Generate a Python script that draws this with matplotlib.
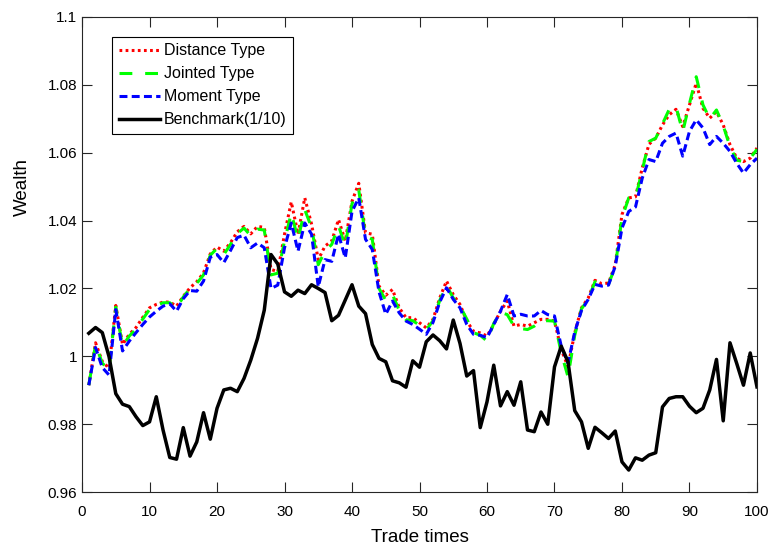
import matplotlib
matplotlib.use("Agg")
import matplotlib.pyplot as plt
from matplotlib.ticker import FuncFormatter

plt.rcParams['font.family'] = ['Liberation Sans', 'DejaVu Sans']

trade_times = list(range(1, 101))

distance_type = [
    0.9915, 1.0040, 0.9985, 0.9965, 1.0150, 1.0035, 1.0065, 1.0085, 1.0115, 1.0143,
    1.0153, 1.0160, 1.0160, 1.0148, 1.0177, 1.0202, 1.0220, 1.0246, 1.0302, 1.0322,
    1.0310, 1.0335, 1.0367, 1.0383, 1.0361, 1.0383, 1.0380, 1.0256, 1.0250, 1.0360,
    1.0455, 1.0360, 1.0467, 1.0390, 1.0285, 1.0325, 1.0340, 1.0403, 1.0340, 1.0457,
    1.0510, 1.0364, 1.0360, 1.0207, 1.0180, 1.0197, 1.0143, 1.0114, 1.0114, 1.0099,
    1.0084, 1.0109, 1.0172, 1.0222, 1.0182, 1.0153, 1.0104, 1.0074, 1.0069, 1.0060,
    1.0094, 1.0133, 1.0163, 1.0089, 1.0094, 1.0089, 1.0099, 1.0109, 1.0109, 1.0104,
    1.0020, 0.9970, 1.0069, 1.0143, 1.0172, 1.0224, 1.0214, 1.0216, 1.0270, 1.0418,
    1.0467, 1.0470, 1.0555, 1.0625, 1.0643, 1.0682, 1.0712, 1.0728, 1.0677, 1.0741,
    1.0805, 1.0731, 1.0702, 1.0721, 1.0682, 1.0624, 1.0584, 1.0574, 1.0584, 1.0614,
]

jointed_type = [
    0.9915, 1.0035, 0.9980, 0.9960, 1.0145, 1.0030, 1.0060, 1.0080, 1.0110, 1.0138,
    1.0150, 1.0158, 1.0158, 1.0143, 1.0175, 1.0200, 1.0215, 1.0240, 1.0298, 1.0318,
    1.0300, 1.0330, 1.0362, 1.0378, 1.0355, 1.0375, 1.0372, 1.0240, 1.0245, 1.0340,
    1.0422, 1.0345, 1.0432, 1.0380, 1.0270, 1.0310, 1.0330, 1.0385, 1.0325, 1.0450,
    1.0490, 1.0355, 1.0345, 1.0200, 1.0165, 1.0182, 1.0135, 1.0108, 1.0105, 1.0092,
    1.0078, 1.0105, 1.0165, 1.0208, 1.0172, 1.0148, 1.0110, 1.0070, 1.0062, 1.0045,
    1.0097, 1.0130, 1.0123, 1.0089, 1.0082, 1.0079, 1.0089, 1.0105, 1.0105, 1.0104,
    1.0010, 0.9940, 1.0062, 1.0140, 1.0168, 1.0220, 1.0210, 1.0212, 1.0265, 1.0408,
    1.0467, 1.0467, 1.0548, 1.0633, 1.0643, 1.0685, 1.0728, 1.0736, 1.0662, 1.0745,
    1.0824, 1.0741, 1.0700, 1.0726, 1.0680, 1.0618, 1.0578, 1.0574, 1.0584, 1.0610,
]

moment_type = [
    0.9915, 1.0026, 0.9967, 0.9945, 1.0138, 1.0016, 1.0045, 1.0070, 1.0094, 1.0116,
    1.0133, 1.0148, 1.0155, 1.0133, 1.0170, 1.0194, 1.0192, 1.0222, 1.0292, 1.0300,
    1.0276, 1.0312, 1.0350, 1.0357, 1.0320, 1.0334, 1.0320, 1.0200, 1.0210, 1.0320,
    1.0393, 1.0310, 1.0393, 1.0360, 1.0205, 1.0285, 1.0280, 1.0360, 1.0290, 1.0427,
    1.0467, 1.0345, 1.0315, 1.0190, 1.0124, 1.0163, 1.0128, 1.0104, 1.0094, 1.0080,
    1.0065, 1.0100, 1.0160, 1.0202, 1.0168, 1.0143, 1.0094, 1.0065, 1.0062, 1.0055,
    1.0094, 1.0133, 1.0182, 1.0119, 1.0124, 1.0119, 1.0119, 1.0135, 1.0123, 1.0119,
    1.0030, 0.9980, 1.0072, 1.0135, 1.0168, 1.0212, 1.0207, 1.0210, 1.0265, 1.0378,
    1.0427, 1.0440, 1.0525, 1.0580, 1.0574, 1.0628, 1.0648, 1.0658, 1.0590, 1.0663,
    1.0697, 1.0673, 1.0624, 1.0648, 1.0628, 1.0604, 1.0569, 1.0540, 1.0565, 1.0584,
]

benchmark = [
    1.0068, 1.0085, 1.0070, 0.9999, 0.9890, 0.9859, 0.9852, 0.9822, 0.9796, 0.9807,
    0.9881, 0.9783, 0.9702, 0.9697, 0.9790, 0.9706, 0.9748, 0.9834, 0.9756, 0.9847,
    0.9901, 0.9906, 0.9896, 0.9935, 0.9989, 1.0053, 1.0136, 1.0300, 1.0272, 1.0190,
    1.0177, 1.0195, 1.0185, 1.0211, 1.0200, 1.0188, 1.0105, 1.0121, 1.0166, 1.0211,
    1.0148, 1.0126, 1.0035, 0.9994, 0.9984, 0.9928, 0.9922, 0.9909, 0.9987, 0.9968,
    1.0043, 1.0063, 1.0046, 1.0022, 1.0107, 1.0038, 0.9942, 0.9958, 0.9790, 0.9866,
    0.9974, 0.9854, 0.9896, 0.9856, 0.9925, 0.9783, 0.9778, 0.9836, 0.9800, 0.9969,
    1.0030, 0.9984, 0.9840, 0.9807, 0.9729, 0.9791, 0.9775, 0.9758, 0.9780, 0.9689,
    0.9665, 0.9701, 0.9694, 0.9709, 0.9716, 0.9851, 0.9876, 0.9881, 0.9881, 0.9853,
    0.9834, 0.9847, 0.9901, 0.9991, 0.9810, 1.0040, 0.9979, 0.9915, 1.0010, 0.9910,
]

labels = ['Distance Type', 'Jointed Type', 'Moment Type', 'Benchmark(1/10)']
x_ticks = [0, 10, 20, 30, 40, 50, 60, 70, 80, 90, 100]
y_ticks = [0.96, 0.98, 1.0, 1.02, 1.04, 1.06, 1.08, 1.1]

fig = plt.figure(figsize=(7.74, 5.48), dpi=100)
ax = fig.add_axes([0.106, 0.102, 0.872, 0.867])

lw = 2.2
ax.plot(trade_times, distance_type, color=(1, 0, 0), lw=lw, dashes=(0.9, 1.1), label=labels[0])
ax.plot(trade_times, jointed_type, color=(0, 1, 0), lw=lw, dashes=(4.2, 4.2), label=labels[1])
ax.plot(trade_times, moment_type, color=(0, 0, 1), lw=lw, dashes=(2.6, 1.4), label=labels[2])
ax.plot(trade_times, benchmark, color='black', lw=2.5, label=labels[3])

ax.set_xlim(0, 100)
ax.set_ylim(0.96, 1.1)
ax.set_xticks(x_ticks)
ax.set_yticks(y_ticks)
ax.yaxis.set_major_formatter(FuncFormatter(lambda v, p: '%g' % round(v, 4)))

axis_gray = (0.15, 0.15, 0.15)
for s in ax.spines.values():
    s.set_color(axis_gray)
    s.set_linewidth(0.8)
ax.tick_params(direction='in', length=7, width=0.8, top=True, right=True,
               colors=axis_gray, labelsize=11)
ax.tick_params(axis='x', pad=9)
for lab in ax.get_xticklabels() + ax.get_yticklabels():
    lab.set_color('black')

ax.set_xlabel('Trade times', fontsize=13.5, va='center')
ax.set_ylabel('Wealth', fontsize=13.5, va='center')
ax.xaxis.set_label_coords(0.5, -0.095)
ax.yaxis.set_label_coords(-0.089, 0.642)

leg = ax.legend(loc='upper left', bbox_to_anchor=(0.045, 0.958), fontsize=11.5,
                frameon=True, fancybox=False, framealpha=1, edgecolor='black',
                handlelength=2.6, handletextpad=0.2, labelspacing=0.5,
                borderpad=0.4, borderaxespad=0.0)
leg.get_frame().set_linewidth(0.8)

fig.savefig('out.png', dpi=100)
